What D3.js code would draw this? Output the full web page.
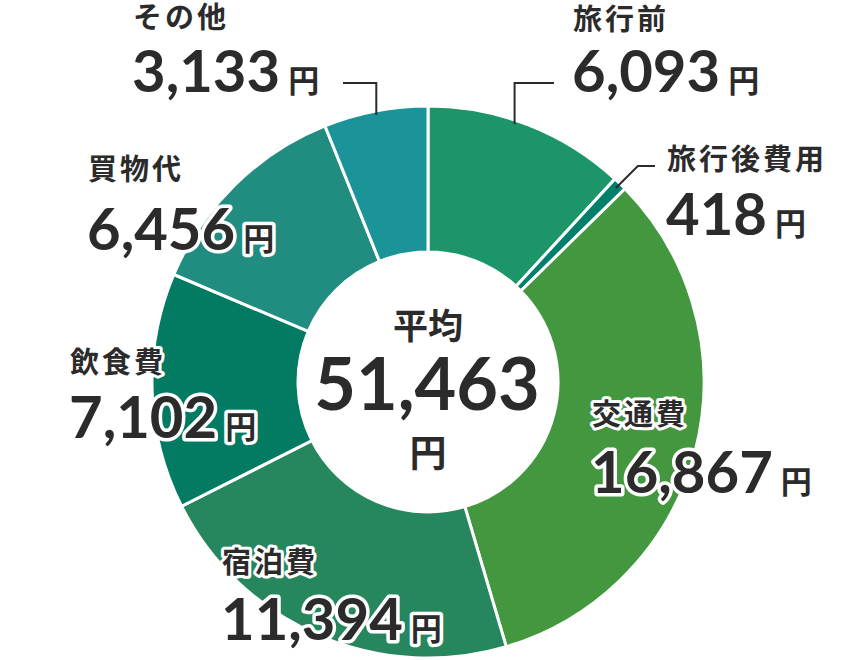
<!DOCTYPE html>
<html>
<head>
<meta charset="utf-8">
<script src="https://cdn.jsdelivr.net/npm/d3@7"></script>
<style>
  body { margin: 0; background: #fff; }
  text { fill: #2b2b2b; paint-order: stroke; stroke: #fff; stroke-linejoin: round; }
  .lbl { font-family: "Noto Sans CJK JP", sans-serif; font-weight: 700; }
  .num { font-family: Lato, "Noto Sans", sans-serif; font-weight: 700; }
</style>
</head>
<body>
<div id="chart"></div>
<script>
// data
var categories = ["旅行前", "旅行後費用", "交通費", "宿泊費", "飲食費", "買物代", "その他"];
var values = [6093, 418, 16867, 11394, 7102, 6456, 3133];
var colors = ["#1c9669", "#00806a", "#43973f", "#26875e", "#027b62", "#218c80", "#1a9498"];
var centerLabel = "平均";
var unit = "円";

// label placement (left x, label baseline, number baseline)
var labelPos = {
  "旅行前":   {x: 573, ly: 30,  ny: 92},
  "旅行後費用": {x: 667, ly: 170, ny: 235},
  "交通費":   {x: 592, ly: 425, ny: 493},
  "宿泊費":   {x: 222, ly: 573, ny: 640},
  "飲食費":   {x: 70,  ly: 373, ny: 438},
  "買物代":   {x: 88,  ly: 180, ny: 250},
  "その他":   {x: 133, ly: 28,  ny: 92}
};

var width = 850, height = 660;
var cx = 428, cy = 382, outerR = 276, innerR = 130;

var svg = d3.select("#chart")
  .append("svg")
    .attr("width", width)
    .attr("height", height);

var data = categories.map(function(c, i) { return {name: c, value: values[i], color: colors[i]}; });
var total = d3.sum(values);

var pie = d3.pie()
  .sort(null)
  .value(function(d) { return d.value; });

var arc = d3.arc()
  .innerRadius(innerR)
  .outerRadius(outerR);

var arcs = pie(data);

var g = svg.append("g")
  .attr("transform", "translate(" + cx + "," + cy + ")");

g.selectAll("path")
  .data(arcs)
  .enter()
  .append("path")
    .attr("d", arc)
    .attr("fill", function(d) { return d.data.color; })
    .attr("stroke", "#fff")
    .attr("stroke-width", 3);

// point on the ring at a given angle (radians, clockwise from top)
function ringPoint(a, r) {
  return [cx + r * Math.sin(a), cy - r * Math.cos(a)];
}
function midAngle(d) { return (d.startAngle + d.endAngle) / 2; }

// leader lines
var leaderY = 83;
var lines = [];
var a0 = arcs[0], a1 = arcs[1], a6 = arcs[6];
var p0 = ringPoint(midAngle(a0) - 0.048, outerR - 4);
lines.push([p0, [p0[0], leaderY], [labelPos["旅行前"].x - 19, leaderY]]);
var p6 = ringPoint(midAngle(a6), outerR - 4);
lines.push([p6, [p6[0], leaderY], [labelPos["その他"].x + 210, leaderY]]);
var p1 = ringPoint(midAngle(a1), outerR - 6);
lines.push([p1, [p1[0] + 22, p1[1] - 22], [labelPos["旅行後費用"].x - 12, p1[1] - 22]]);

svg.selectAll(".leader")
  .data(lines)
  .enter()
  .append("path")
    .attr("class", "leader")
    .attr("d", d3.line())
    .attr("fill", "none")
    .attr("stroke", "#2b2b2b")
    .attr("stroke-width", 2);

// category labels
var labels = svg.selectAll(".item")
  .data(arcs)
  .enter()
  .append("g")
    .attr("class", "item");

labels.append("text")
  .attr("class", "lbl")
  .attr("x", function(d) { return labelPos[d.data.name].x; })
  .attr("y", function(d) { return labelPos[d.data.name].ly; })
  .attr("font-size", 29)
  .attr("letter-spacing", 3)
  .attr("stroke-width", 6)
  .text(function(d) { return d.data.name; });

var numText = labels.append("text")
  .attr("x", function(d) { return labelPos[d.data.name].x - 1; })
  .attr("y", function(d) { return labelPos[d.data.name].ny; })
  .attr("stroke-width", 7);

numText.append("tspan")
  .attr("class", "num")
  .attr("font-size", 58)
  .text(function(d) { return d3.format(",")(d.data.value); });

numText.append("tspan")
  .attr("class", "lbl")
  .attr("font-size", 31)
  .attr("dx", 8)
  .text(unit);

// center
svg.append("text")
  .attr("class", "lbl")
  .attr("x", cx)
  .attr("y", 339)
  .attr("text-anchor", "middle")
  .attr("font-size", 35)
  .text(centerLabel);

svg.append("text")
  .attr("class", "num")
  .attr("x", cx - 1)
  .attr("y", 410)
  .attr("text-anchor", "middle")
  .attr("font-size", 72)
  .text(d3.format(",")(total));

svg.append("text")
  .attr("class", "lbl")
  .attr("x", cx)
  .attr("y", 467)
  .attr("text-anchor", "middle")
  .attr("font-size", 37)
  .text(unit);
</script>
</body>
</html>
